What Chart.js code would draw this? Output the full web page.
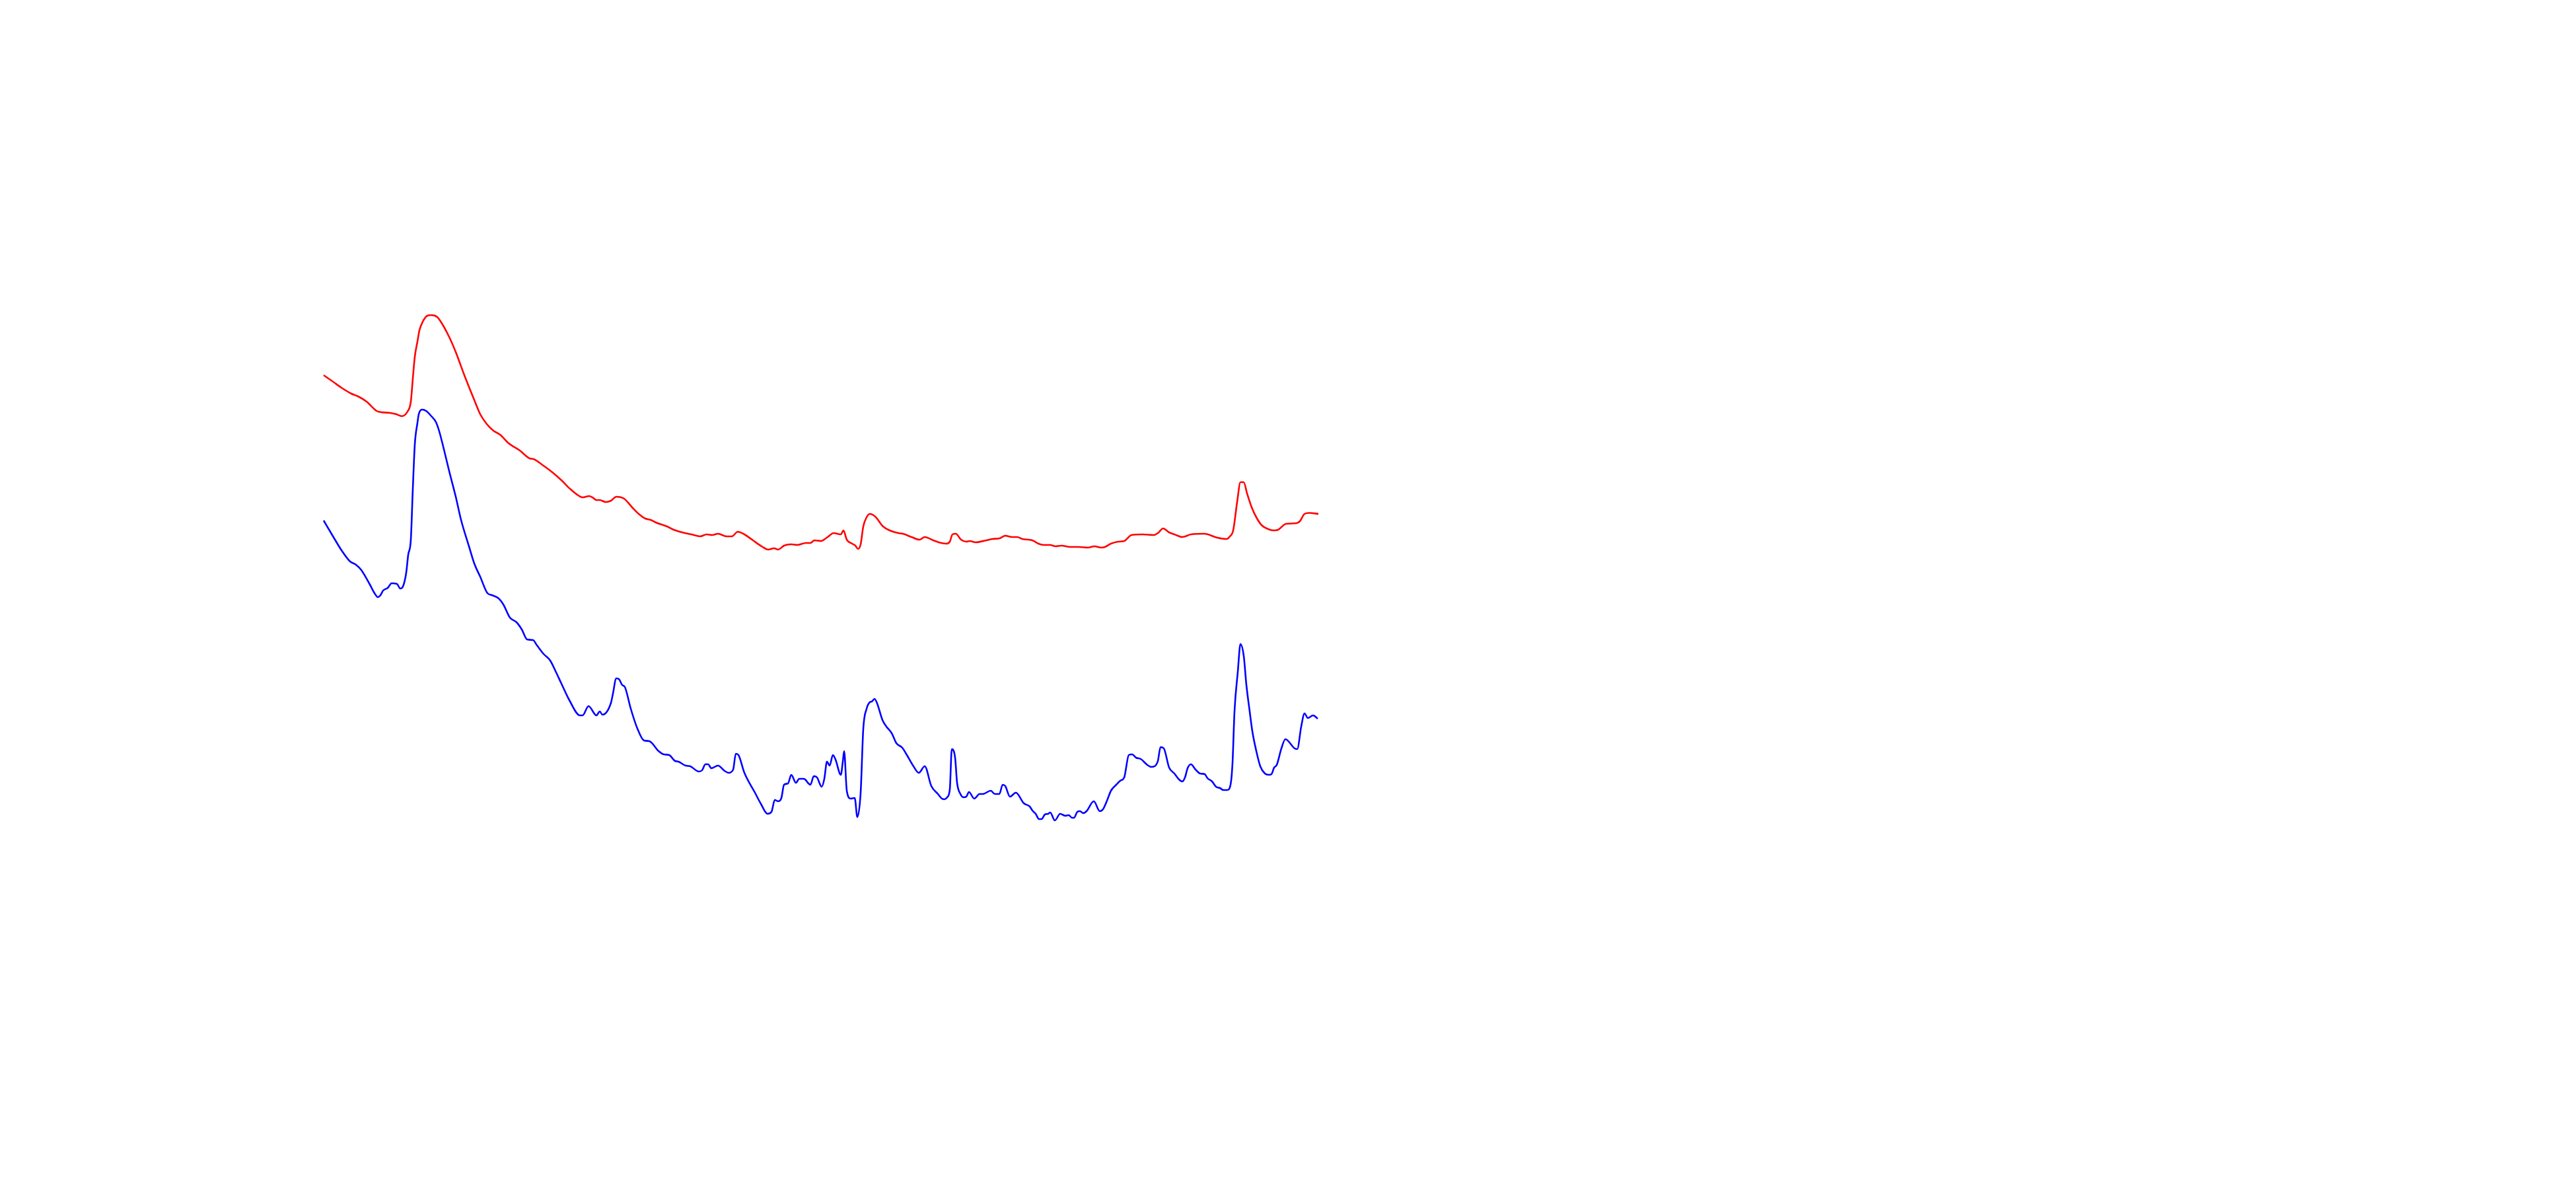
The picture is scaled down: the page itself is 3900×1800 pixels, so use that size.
<!DOCTYPE html>
<html>
<head>
<meta charset="utf-8">
<script src="https://cdn.jsdelivr.net/npm/chart.js@4"></script>
<style>
html,body{margin:0;padding:0;background:#fff;}
canvas{display:block;}
</style>
</head>
<body>
<canvas id="c" width="3900" height="1800"></canvas>
<script>
// Red trace: positions and intensities
const redX = [0,13,27,42,52,65,80,87,100,110,118,127,132,135,138,142,145,150,157,163,172,178,190,200,213,227,237,247,257,267,280,297,312,318,330,345,360,373,387,392,402,407,413,418,427,435,443,455,467,477,487,495,503,520,530,547,557,570,580,588,597,610,618,627,637,650,663,673,682,688,697,708,717,730,737,743,753,763,772,783,787,792,800,805,809,813,817,822,827,835,847,857,870,877,890,902,910,923,935,943,948,952,957,965,973,978,987,1003,1012,1023,1032,1042,1050,1058,1073,1082,1090,1100,1108,1117,1130,1143,1157,1167,1177,1183,1192,1203,1212,1223,1240,1257,1263,1271,1280,1288,1300,1313,1333,1353,1367,1372,1377,1383,1388,1393,1398,1405,1412,1420,1430,1438,1445,1457,1473,1478,1485,1492,1506];
const redY = [83.2,82.3,81.3,80.4,80.0,79.2,77.8,77.6,77.5,77.3,77.0,77.7,79.2,82.7,86.0,88.3,90.0,91.3,92.2,92.3,92.0,91.2,89.0,86.7,83.2,79.7,77.3,75.8,74.8,74.2,72.9,71.8,70.6,70.5,69.7,68.6,67.3,66.0,64.9,64.7,64.9,64.7,64.3,64.3,64.0,64.2,64.8,64.5,63.2,62.2,61.5,61.3,60.9,60.3,59.8,59.3,59.1,58.8,59.1,59.0,59.2,58.8,58.8,59.5,59.1,58.2,57.3,56.8,57.0,56.8,57.4,57.6,57.5,57.8,57.8,58.2,58.1,58.7,59.3,59.1,59.7,58.3,57.7,57.4,56.9,57.6,60.3,61.7,62.2,61.8,60.3,59.7,59.3,59.2,58.7,58.3,58.7,58.2,57.8,57.7,58.0,59.1,59.2,58.3,58.0,58.1,57.9,58.2,58.4,58.5,58.9,58.7,58.7,58.4,58.2,57.7,57.5,57.5,57.3,57.4,57.2,57.2,57.1,57.3,57.1,57.2,57.7,58.0,58.1,59.0,59.1,59.0,59.3,60.0,59.4,59.1,58.7,59.1,59.2,58.6,58.4,58.8,59.7,64.0,67.0,67.0,65.3,63.2,61.7,60.5,59.9,59.7,59.8,60.7,60.8,61.1,62.2,62.35,62.2];

// Blue trace: positions and intensities
const blueX = [0,13,27,40,49,57,70,77,82,86,90,97,103,111,116,120,125,128,132,135,138,142,144,149,155,163,170,175,182,190,200,208,220,228,237,248,255,265,272,282,292,300,308,317,323,333,343,352,360,372,388,392,401,413,418,422,435,438,443,447,452,456,465,475,485,493,507,515,523,532,537,548,555,568,573,578,582,587,597,607,613,620,624,628,637,653,662,672,678,683,688,693,697,703,708,715,720,727,730,733,737,742,747,754,758,762,766,771,775,783,786,788,792,798,804,808,813,817,822,827,830,834,838,846,852,860,867,876,883,893,901,910,920,930,936,940,944,948,951,956,959,964,969,973,977,985,993,998,1010,1016,1023,1028,1032,1039,1048,1060,1069,1073,1078,1083,1087,1092,1097,1100,1107,1115,1123,1128,1133,1136,1141,1145,1150,1155,1166,1175,1180,1186,1192,1200,1206,1212,1219,1224,1230,1237,1247,1253,1258,1263,1267,1272,1280,1288,1295,1300,1304,1308,1313,1320,1327,1334,1338,1345,1351,1357,1362,1368,1373,1376,1379,1384,1388,1393,1397,1402,1406,1412,1418,1425,1431,1435,1439,1443,1450,1456,1470,1474,1480,1485,1490,1498,1505];
const blueY = [61.2,59.0,56.7,55.0,54.5,53.7,51.5,50.2,49.6,49.9,50.6,51.0,51.7,51.6,50.9,51.2,53.3,56.0,58.3,66.0,72.7,76.0,77.3,78.0,77.8,77.0,76.1,74.7,72.0,68.7,64.8,61.3,57.3,54.7,52.7,50.2,49.9,49.4,48.5,46.5,45.8,44.7,43.2,43.1,42.3,41.0,40.0,38.2,36.5,34.0,31.7,31.7,33.1,31.7,32.3,31.8,33.6,35.0,37.3,37.2,36.3,36.0,32.7,29.7,27.9,27.8,26.3,25.8,25.7,24.8,24.7,24.1,24.0,23.2,23.4,24.3,24.3,23.7,24.1,23.3,23.0,23.5,25.9,25.7,23.0,20.0,18.3,16.8,17.1,18.9,18.7,19.2,21.2,21.4,22.7,21.5,22.1,22.1,21.9,21.5,21.2,22.5,22.3,20.9,22.1,24.7,24.1,25.7,25.0,22.7,24.7,26.3,20.3,19.1,19.2,16.3,20.0,29.7,32.7,33.7,33.8,34.2,33.5,31.0,30.0,29.0,27.5,26.8,25.7,24.0,23.0,24.0,21.0,19.8,19.1,19.0,19.3,20.5,26.6,25.3,21.5,19.8,19.3,19.4,20.1,19.1,19.8,19.8,20.3,19.8,19.8,21.2,21.0,19.4,20.0,18.4,17.9,17.3,16.8,16.0,16.0,16.7,16.8,17.0,15.8,16.8,16.5,16.6,16.2,16.2,17.1,17.2,16.9,17.2,18.7,17.2,17.5,18.8,20.3,21.2,21.8,22.3,25.7,25.8,25.3,25.1,24.2,23.9,24.0,24.8,26.9,26.7,23.8,22.9,22.0,21.7,22.3,23.7,24.3,23.5,22.9,22.8,22.2,21.7,20.9,20.7,20.4,20.4,21.2,24.5,32.3,38.3,42.5,40.7,36.3,32.3,29.3,26.3,24.0,22.9,22.7,22.8,23.8,24.2,26.7,28.1,26.7,26.6,30.0,32.0,31.3,31.7,31.2];

const toPts = (xs, ys) => xs.map((x, i) => ({x: x, y: ys[i]}));

new Chart(document.getElementById('c'), {
  type: 'line',
  data: {
    datasets: [
      {data: toPts(redX, redY), borderColor: '#ff0000', borderWidth: 2.6, pointRadius: 0, cubicInterpolationMode: 'monotone', fill: false},
      {data: toPts(blueX, blueY), borderColor: '#0000ff', borderWidth: 2.6, pointRadius: 0, cubicInterpolationMode: 'monotone', fill: false}
    ]
  },
  options: {
    responsive: false,
    devicePixelRatio: 1,
    animation: false,
    layout: {padding: 0},
    plugins: {legend: {display: false}, tooltip: {enabled: false}, title: {display: false}},
    scales: {
      x: {type: 'linear', min: -490, max: 3410, display: false},
      y: {type: 'linear', min: -40, max: 140, display: false}
    }
  }
});
</script>
</body>
</html>
